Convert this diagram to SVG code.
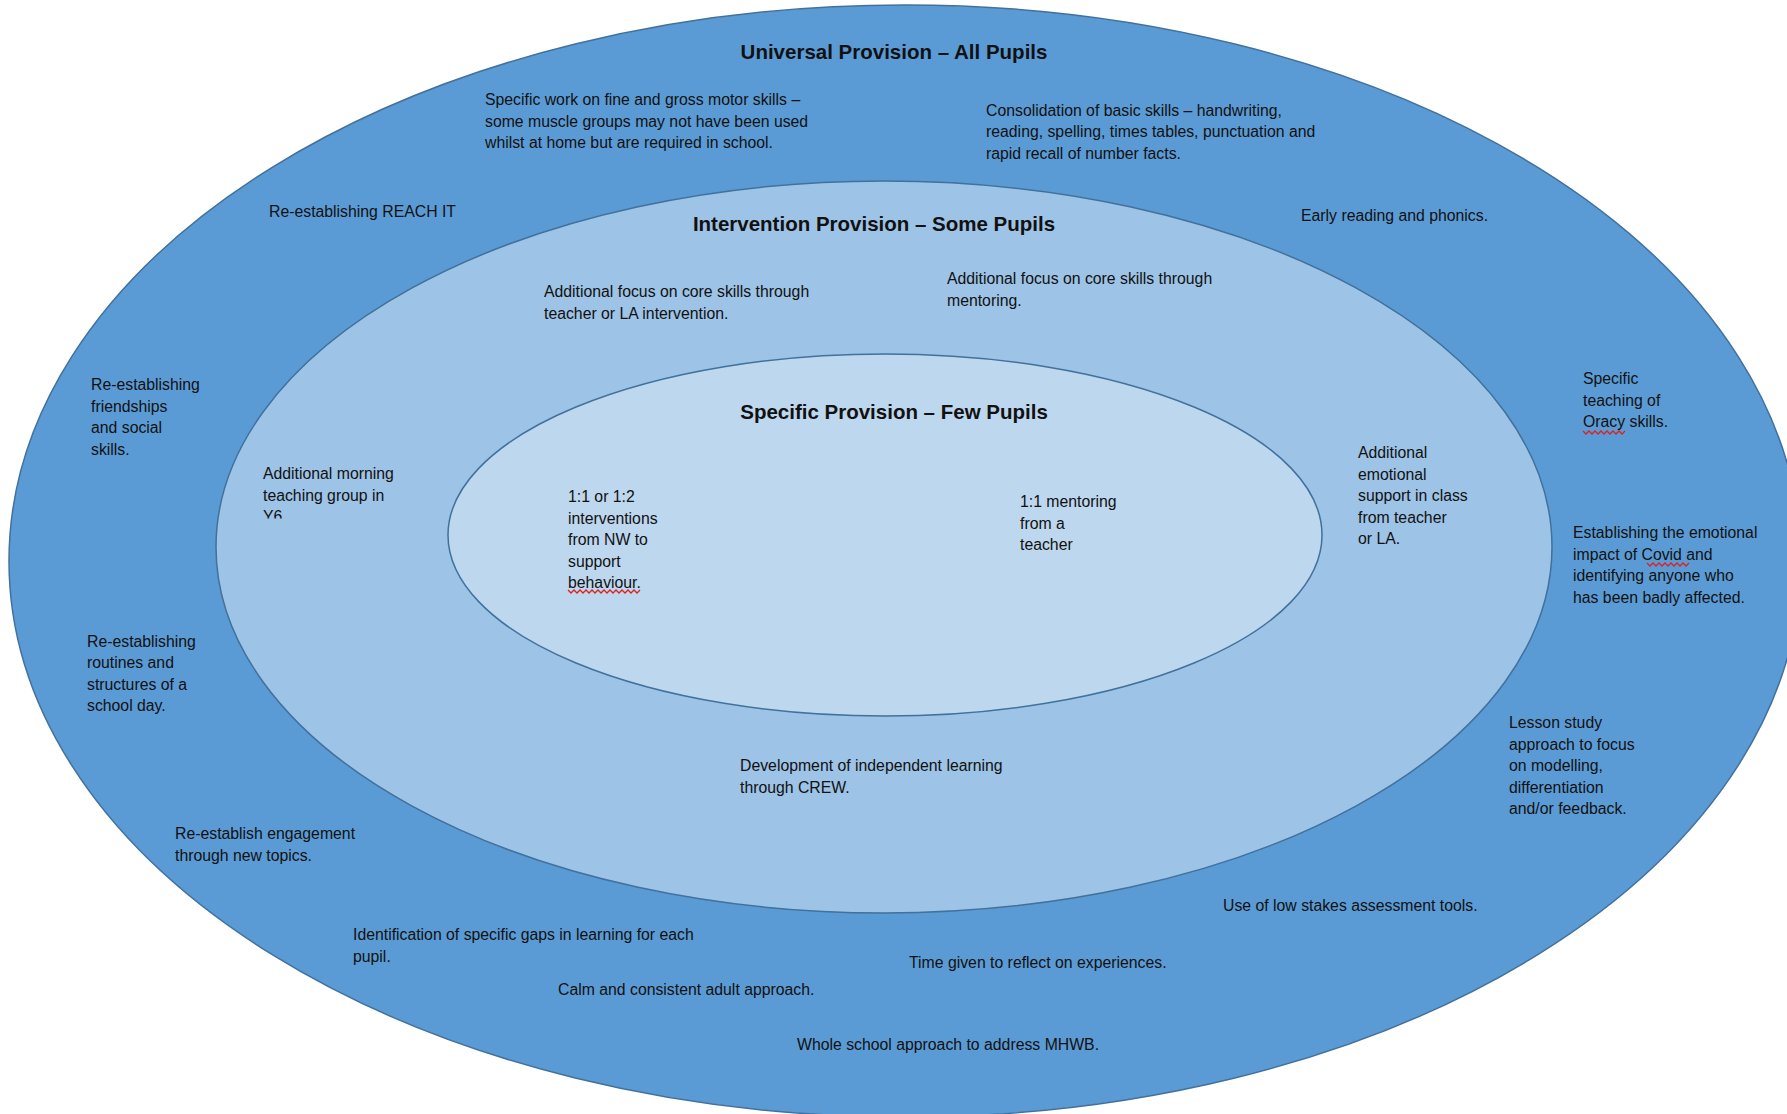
<svg xmlns="http://www.w3.org/2000/svg" width="1787" height="1114" viewBox="0 0 1787 1114">
<defs>
<style>
.ring{stroke:#41719C;stroke-width:1.5}
.t{font-family:"Liberation Sans",Arial,sans-serif;font-size:15.8px;fill:#111}
.h{font-family:"Liberation Sans",Arial,sans-serif;font-size:20.5px;font-weight:bold;fill:#111;text-anchor:middle}
.sq{fill:none;stroke:#E0201C;stroke-width:1.3}
</style>
<clipPath id="clipY6"><rect x="250" y="450" width="150" height="68.5"/></clipPath>
</defs>
<rect x="0" y="0" width="1787" height="1114" fill="#ffffff"/>
<g id="universal">
<ellipse class="ring" cx="905" cy="561" rx="896" ry="556" fill="#5B9BD5"/>
<text class="h" x="894" y="59">Universal Provision – All Pupils</text>
</g>
<g id="intervention">
<ellipse class="ring" cx="884" cy="547" rx="668" ry="366" fill="#9DC3E6"/>
<text class="h" x="874" y="231">Intervention Provision – Some Pupils</text>
</g>
<g id="specific">
<ellipse class="ring" cx="885" cy="535" rx="437" ry="181" fill="#BDD7EE"/>
<text class="h" x="894" y="419">Specific Provision – Few Pupils</text>
</g>
<g id="connectors"/>
<g id="universal-items">
<g id="u-motor"><text class="t" x="485" y="105"><tspan x="485">Specific work on fine and gross motor skills –</tspan><tspan x="485" dy="21.7">some muscle groups may not have been used</tspan><tspan x="485" dy="21.7">whilst at home but are required in school.</tspan></text></g>
<g id="u-basic"><text class="t" x="986" y="116"><tspan x="986">Consolidation of basic skills – handwriting,</tspan><tspan x="986" dy="21.3">reading, spelling, times tables, punctuation and</tspan><tspan x="986" dy="21.3">rapid recall of number facts.</tspan></text></g>
<g id="u-reach"><text class="t" x="269" y="217">Re-establishing REACH IT</text></g>
<g id="u-phonics"><text class="t" x="1301" y="221">Early reading and phonics.</text></g>
<g id="u-friend"><text class="t" x="91" y="390"><tspan x="91">Re-establishing</tspan><tspan x="91" dy="21.5">friendships</tspan><tspan x="91" dy="21.5">and social</tspan><tspan x="91" dy="21.5">skills.</tspan></text></g>
<g id="u-oracy"><text class="t" x="1583" y="384"><tspan x="1583">Specific</tspan><tspan x="1583" dy="21.7">teaching of</tspan><tspan x="1583" dy="21.7">Oracy skills.</tspan></text>
<path class="sq" d="M1583 431 l3 3 l3 -3 l3 3 l3 -3 l3 3 l3 -3 l3 3 l3 -3 l3 3 l3 -3 l3 3 l3 -3 l3 3 l3 -3"/></g>
<g id="u-covid"><text class="t" x="1573" y="538"><tspan x="1573">Establishing the emotional</tspan><tspan x="1573" dy="21.7">impact of Covid and</tspan><tspan x="1573" dy="21.7">identifying anyone who</tspan><tspan x="1573" dy="21.7">has been badly affected.</tspan></text>
<path class="sq" d="M1647 563 l3 3 l3 -3 l3 3 l3 -3 l3 3 l3 -3 l3 3 l3 -3 l3 3 l3 -3 l3 3 l3 -3 l3 3 l3 -3"/></g>
<g id="u-routines"><text class="t" x="87" y="647"><tspan x="87">Re-establishing</tspan><tspan x="87" dy="21.3">routines and</tspan><tspan x="87" dy="21.3">structures of a</tspan><tspan x="87" dy="21.3">school day.</tspan></text></g>
<g id="u-lesson"><text class="t" x="1509" y="728"><tspan x="1509">Lesson study</tspan><tspan x="1509" dy="21.6">approach to focus</tspan><tspan x="1509" dy="21.6">on modelling,</tspan><tspan x="1509" dy="21.6">differentiation</tspan><tspan x="1509" dy="21.6">and/or feedback.</tspan></text></g>
<g id="u-engage"><text class="t" x="175" y="839"><tspan x="175">Re-establish engagement</tspan><tspan x="175" dy="21.7">through new topics.</tspan></text></g>
<g id="u-lowstakes"><text class="t" x="1223" y="911">Use of low stakes assessment tools.</text></g>
<g id="u-gaps"><text class="t" x="353" y="940"><tspan x="353">Identification of specific gaps in learning for each</tspan><tspan x="353" dy="21.7">pupil.</tspan></text></g>
<g id="u-reflect"><text class="t" x="909" y="968">Time given to reflect on experiences.</text></g>
<g id="u-calm"><text class="t" x="558" y="995">Calm and consistent adult approach.</text></g>
<g id="u-mhwb"><text class="t" x="797" y="1050">Whole school approach to address MHWB.</text></g>
</g>
<g id="intervention-items">
<g id="i-core-teacher"><text class="t" x="544" y="297"><tspan x="544">Additional focus on core skills through</tspan><tspan x="544" dy="21.6">teacher or LA intervention.</tspan></text></g>
<g id="i-core-mentor"><text class="t" x="947" y="284"><tspan x="947">Additional focus on core skills through</tspan><tspan x="947" dy="21.7">mentoring.</tspan></text></g>
<g id="i-morning"><text class="t" x="263" y="479" clip-path="url(#clipY6)"><tspan x="263">Additional morning</tspan><tspan x="263" dy="21.7">teaching group in</tspan><tspan x="263" dy="21.7">Y6</tspan></text></g>
<g id="i-emotional"><text class="t" x="1358" y="458"><tspan x="1358">Additional</tspan><tspan x="1358" dy="21.6">emotional</tspan><tspan x="1358" dy="21.6">support in class</tspan><tspan x="1358" dy="21.6">from teacher</tspan><tspan x="1358" dy="21.6">or LA.</tspan></text></g>
<g id="i-crew"><text class="t" x="740" y="771"><tspan x="740">Development of independent learning</tspan><tspan x="740" dy="21.5">through CREW.</tspan></text></g>
</g>
<g id="specific-items">
<g id="s-nw"><text class="t" x="568" y="502"><tspan x="568">1:1 or 1:2</tspan><tspan x="568" dy="21.5">interventions</tspan><tspan x="568" dy="21.5">from NW to</tspan><tspan x="568" dy="21.5">support</tspan><tspan x="568" dy="21.5">behaviour.</tspan></text>
<path class="sq" d="M568 590 l3 3 l3 -3 l3 3 l3 -3 l3 3 l3 -3 l3 3 l3 -3 l3 3 l3 -3 l3 3 l3 -3 l3 3 l3 -3 l3 3 l3 -3 l3 3 l3 -3 l3 3 l3 -3 l3 3 l3 -3 l3 3 l3 -3"/></g>
<g id="s-mentor"><text class="t" x="1020" y="507"><tspan x="1020">1:1 mentoring</tspan><tspan x="1020" dy="21.7">from a</tspan><tspan x="1020" dy="21.7">teacher</tspan></text></g>
</g>
</svg>
